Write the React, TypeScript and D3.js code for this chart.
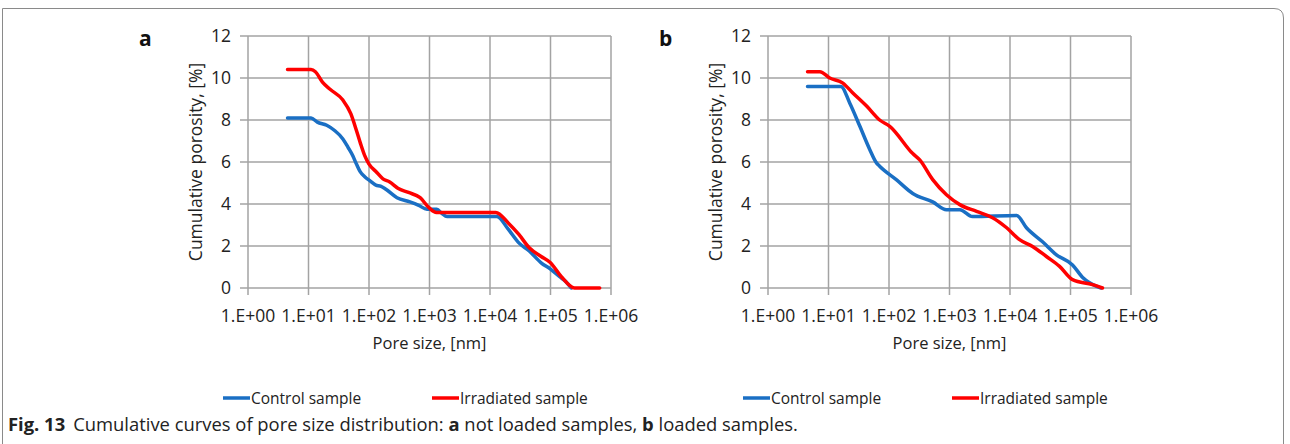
import React from "react";
import * as d3 from "d3";

// ---- data (pore size [nm], cumulative porosity [%]) ----
const xTickValues = [1, 10, 100, 1000, 10000, 100000, 1000000];
const xTickLabels = ["1.E+00", "1.E+01", "1.E+02", "1.E+03", "1.E+04", "1.E+05", "1.E+06"];
const yTickValues = [0, 2, 4, 6, 8, 10, 12];

const controlA: [number, number][] = [
  [4.5, 8.1], [11, 8.1], [14, 7.9], [20, 7.75], [27, 7.5], [37, 7.1], [45, 6.7], [54, 6.3],
  [62, 5.9], [71, 5.55], [85, 5.3], [104, 5.1], [130, 4.9], [155, 4.85], [190, 4.7],
  [290, 4.3], [475, 4.1], [650, 3.95], [910, 3.75], [1320, 3.75], [1600, 3.55], [1950, 3.4],
  [13000, 3.4], [20000, 2.8], [30000, 2.15], [45000, 1.75], [70000, 1.2], [100000, 0.9],
  [140000, 0.55], [180000, 0.3], [220000, 0],
];
const irradiatedA: [number, number][] = [
  [4.5, 10.4], [11, 10.4], [13, 10.3], [17, 9.8], [23, 9.45], [37, 8.95], [50, 8.3],
  [62, 7.5], [72, 6.9], [85, 6.3], [100, 5.9], [130, 5.55], [170, 5.2], [220, 5.05],
  [300, 4.75], [450, 4.55], [700, 4.3], [1000, 3.8], [1300, 3.6], [5000, 3.6], [12500, 3.6],
  [20000, 3.1], [30000, 2.55], [45000, 1.9], [70000, 1.5], [100000, 1.2], [150000, 0.55],
  [250000, 0], [650000, 0],
];
const controlB: [number, number][] = [
  [4.5, 9.6], [16, 9.6], [22.5, 8.8], [33, 7.7], [48, 6.6], [62, 5.96], [70, 5.8],
  [132, 5.16], [247, 4.5], [528, 4.1], [890, 3.73], [1480, 3.73], [2400, 3.4],
  [12900, 3.45], [18700, 2.87], [34500, 2.2], [58600, 1.58], [108000, 1.1],
  [159000, 0.5], [270000, 0.08], [320000, 0],
];
const irradiatedB: [number, number][] = [
  [4.5, 10.3], [7.2, 10.3], [10.5, 10.0], [17.3, 9.76], [25, 9.3], [43, 8.65], [70, 8.0],
  [103, 7.7], [247, 6.4], [322, 6.1], [528, 5.16], [890, 4.44], [1480, 3.97],
  [2800, 3.65], [5150, 3.35], [8800, 2.87], [14400, 2.3], [23600, 1.98], [40000, 1.5],
  [66000, 1.03], [108000, 0.4], [230000, 0.16], [338000, 0],
];

const seriesNames = ["Control sample", "Irradiated sample"];
const seriesColors = ["#1a6fc4", "#ff0000"];

const FONT = "'Open Sans', sans-serif";

function Panel({ left, label, control, irradiated }: { left: number; label: string; control: [number, number][]; irradiated: [number, number][] }) {
  const right = left + 363;
  const top = 36;
  const bottom = 288;
  const x = d3.scaleLog().domain([1, 1000000]).range([left, right]);
  const y = d3.scaleLinear().domain([0, 12]).range([bottom, top]);
  const line = d3
    .line<[number, number]>()
    .x((d) => x(d[0]))
    .y((d) => y(d[1]))
    .curve(d3.curveMonotoneX);
  const grid = "#a3a3a3";
  return (
    <g>
      <text x={left - 109} y={46} fontFamily={FONT} fontWeight="bold" fontSize={21} fill="#111">{label}</text>
      {yTickValues.map((v) => (
        <g key={"y" + v}>
          <line x1={left - 8} x2={right} y1={y(v)} y2={y(v)} stroke={grid} strokeWidth={1.5} />
          <text x={left - 17} y={y(v) + 6} textAnchor="end" fontFamily={FONT} fontSize={17.5} fill="#222">{v}</text>
        </g>
      ))}
      {xTickValues.map((v, i) => (
        <g key={"x" + v}>
          <line x1={x(v)} x2={x(v)} y1={top} y2={bottom + 7} stroke={grid} strokeWidth={1.5} />
          <text x={x(v)} y={322} textAnchor="middle" fontFamily={FONT} fontSize={17.5} fill="#222">{xTickLabels[i]}</text>
        </g>
      ))}
      <text x={(left + right) / 2} y={349} textAnchor="middle" fontFamily={FONT} fontSize={16.5} fill="#222">Pore size, [nm]</text>
      <text transform={`translate(${left - 46},${(top + bottom) / 2}) rotate(-90)`} textAnchor="middle" fontFamily={FONT} fontSize={17.5} fill="#222">Cumulative porosity, [%]</text>
      <path d={line(control) || ""} fill="none" stroke={seriesColors[0]} strokeWidth={3.5} strokeLinejoin="round" strokeLinecap="round" />
      <path d={line(irradiated) || ""} fill="none" stroke={seriesColors[1]} strokeWidth={3.5} strokeLinejoin="round" strokeLinecap="round" />
      {seriesNames.map((n, i) => {
        const lx = left - 25 + i * 209;
        return (
          <g key={n}>
            <line x1={lx} x2={lx + 27} y1={398} y2={398} stroke={seriesColors[i]} strokeWidth={3.5} />
            <text x={lx + 28} y={404} fontFamily={FONT} fontSize={15.5} fill="#222">{n}</text>
          </g>
        );
      })}
    </g>
  );
}

export default function App() {
  return (
    <svg width={1290} height={444} style={{ position: "absolute", left: 0, top: 0, background: "#fff" }}>
      <rect width={1290} height={444} fill="#fff" />
      <path d="M2.5,444 L2.5,8.5 L1274,8.5 Q1283.5,8.5 1283.5,18 L1283.5,444" fill="none" stroke="#8a8a8a" strokeWidth={1} />
      <Panel left={248} label="a" control={controlA} irradiated={irradiatedA} />
      <Panel left={768} label="b" control={controlB} irradiated={irradiatedB} />
      <text x={8} y={431} fontFamily={FONT} fontSize={18.4} fill="#222">
        <tspan fontWeight="bold">Fig. 13</tspan>
        <tspan dx={8}>Cumulative curves of pore size distribution: </tspan>
        <tspan fontWeight="bold">a</tspan>
        <tspan> not loaded samples, </tspan>
        <tspan fontWeight="bold">b</tspan>
        <tspan> loaded samples.</tspan>
      </text>
    </svg>
  );
}
